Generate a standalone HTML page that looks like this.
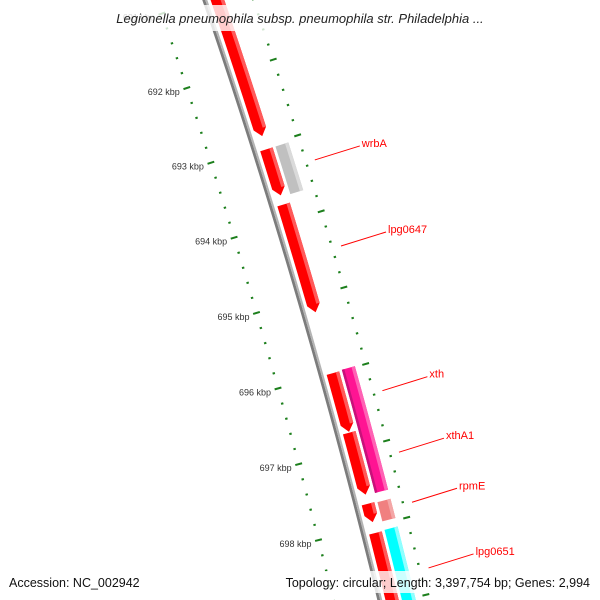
<!DOCTYPE html>
<html><head><meta charset="utf-8"><style>
html,body{margin:0;padding:0;background:#fff;width:600px;height:600px;overflow:hidden;}
svg{display:block;font-family:"Liberation Sans",sans-serif;}
</style></head><body>
<svg id="map" width="600" height="600" viewBox="0 0 600 600" xmlns="http://www.w3.org/2000/svg">
<rect x="0" y="0" width="600" height="600" fill="#fff"/>
<g id="ticks"></g>
<g id="backbone"></g>
<g id="genes"></g>
<g id="labels"></g>
<rect x="76" y="5" width="450" height="26" fill="#fff" fill-opacity="0.8"/>
<text x="300" y="23" text-anchor="middle" font-size="13" font-style="italic" fill="#222">Legionella pneumophila subsp. pneumophila str. Philadelphia ...</text>
<rect x="5" y="571" width="145" height="22" fill="#fff" fill-opacity="0.8"/>
<text x="9" y="587" font-size="12.5" fill="#111">Accession: NC_002942</text>
<rect x="256" y="571" width="340" height="22" fill="#fff" fill-opacity="0.8"/>
<text x="590" y="587" text-anchor="end" font-size="12.5" fill="#111">Topology: circular; Length: 3,397,754 bp; Genes: 2,994</text>
</svg>
<script>
// data
const geneStart = [691.0, 693.05, 693.78, 696.0, 696.78, 697.71, 698.09, 693.05, 695.99, 697.72, 698.08];
const geneEnd   = [692.875, 693.66, 695.2, 696.77, 697.59, 697.95, 699.5, 693.68, 697.6, 697.97, 699.5];
const geneRow   = [1,1,1,1,1,1,1,2,2,2,2];
const geneColor = ["#ff0000","#ff0000","#ff0000","#ff0000","#ff0000","#ff0000","#ff0000","#c0c0c0","#ff1493","#f08080","#00ffff"];
const geneLight = ["#ff5a5a","#ff5a5a","#ff5a5a","#ff5a5a","#ff5a5a","#ff5a5a","#ff5a5a","#dadada","#ff62b4","#f4a6a6","#8fffff"];
const labelNames = ["wrbA","lpg0647","xth","xthA1","rpmE","lpg0651"];
const labelPos   = [693.36, 694.49, 696.38, 697.18, 697.83, 698.68];
const tickMin = 690.0, tickMax = 699.6;

const NS = "http://www.w3.org/2000/svg";
const CX = -6397, CY = 2251, R = 6975, PXK = 79;
const TH0 = Math.atan2(74 - CY, 229.5 - CX);
function pt(k, r){ const t = TH0 + (k-692)*PXK/R, rr = R + r; return [CX + rr*Math.cos(t), CY + rr*Math.sin(t)]; }
function arcPts(k1,k2,r,n){ const a=[]; for(let i=0;i<=n;i++){a.push(pt(k1+(k2-k1)*i/n,r));} return a; }
function mk(tag, attrs, parent){ const e=document.createElementNS(NS,tag); for(const k in attrs) e.setAttribute(k,attrs[k]); parent.appendChild(e); return e; }
function poly(points){ return points.map(p=>p[0].toFixed(2)+","+p[1].toFixed(2)).join(" "); }

// ticks
const tg = document.getElementById("ticks");
for(let i=Math.round(tickMin*5); i<=Math.round(tickMax*5); i++){
  const k = i/5, major = (i%5===0);
  [-45, 46].forEach(function(r){
    const h = major ? 3.5 : 1.2;
    const a = pt(k, r-h), b = pt(k, r+h);
    const ln = mk("line",{x1:a[0],y1:a[1],x2:b[0],y2:b[1],stroke:"#1c7f1c","stroke-width":2},tg);
    
    
  });
  if(major){
    const p = pt(k, -45);
    const tx = mk("text",{x:(p[0]-7).toFixed(1),y:(p[1]+7).toFixed(1),"text-anchor":"end","font-size":"9",fill:"#333"},tg);
    tx.textContent = k + " kbp";
    
    
  }
}

// backbone
const bg = document.getElementById("backbone");
const bb1 = mk("polyline",{points:poly(arcPts(689,700.5,-1,40)),fill:"none",stroke:"#7c7c7c","stroke-width":2.8},bg);


const bb2 = mk("polyline",{points:poly(arcPts(689,700.5,1.4,40)),fill:"none",stroke:"#b4b4b4","stroke-width":2},bg);



// genes
const gg = document.getElementById("genes");
for(let i=0;i<geneStart.length;i++){
  const s=geneStart[i], e=geneEnd[i];
  let r1, r2;
  if(geneRow[i]===1){ r1=5.5; r2=18.5; } else { r1=21.5; r2=35; }
  const n = Math.max(2, Math.ceil((e-s)*4));
  let pts;
  let bodyEnd = e;
  if(geneRow[i]===1){
    bodyEnd = e - 0.1;
    const rm=(r1+r2)/2;
    pts = arcPts(s,bodyEnd,r2,n).concat([pt(e,rm)]).concat(arcPts(bodyEnd,s,r1,n));
  } else {
    pts = arcPts(s,e,r2,n).concat(arcPts(e,s,r1,n));
  }
  const g = mk("g",{},gg);
  
  
  mk("polygon",{points:poly(pts),fill:geneColor[i]},g);
  const strip = arcPts(s,bodyEnd,r2,n).concat(arcPts(bodyEnd,s,r2-3.5,n));
  mk("polygon",{points:poly(strip),fill:geneLight[i]},g);
  if(geneColor[i]==="#ff1493"){
    const ds = arcPts(s,e,r1+2.5,n).concat(arcPts(e,s,r1,n));
    mk("polygon",{points:poly(ds),fill:"#c8117a"},g);
  }
}

// labels
const lg = document.getElementById("labels");
for(let i=0;i<labelNames.length;i++){
  const a = pt(labelPos[i], 55);
  const b = [a[0]+45, a[1]-14];
  const ln = mk("line",{x1:a[0],y1:a[1],x2:b[0],y2:b[1],stroke:"#ff0000","stroke-width":1},lg);
  
  
  const t = mk("text",{x:(b[0]+2).toFixed(1),y:(b[1]+1).toFixed(1),"font-size":"11",fill:"#ff0000"},lg);
  t.textContent = labelNames[i];
  
  
}
</script>
</body></html>
